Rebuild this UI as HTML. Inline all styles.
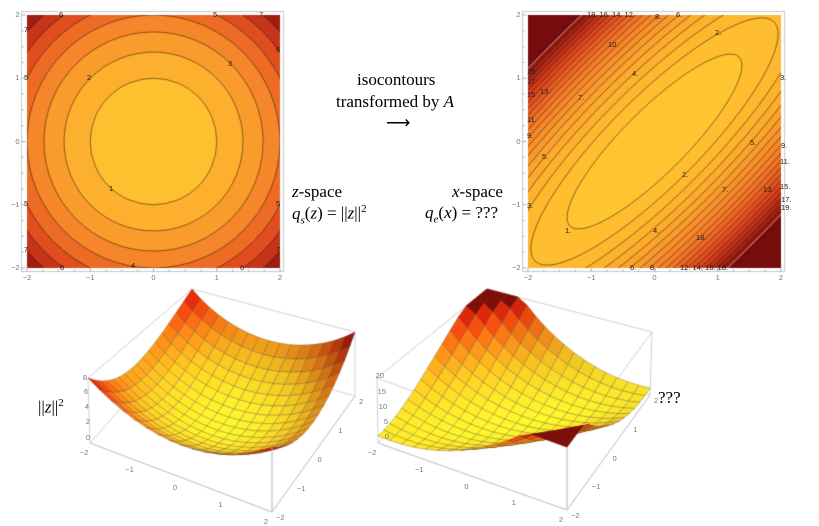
<!DOCTYPE html>
<html><head><meta charset="utf-8"><style>
body{margin:0;background:#fff;}
#w{position:relative;width:819px;height:526px;overflow:hidden;background:#fff;font-family:"Liberation Sans",sans-serif;}
canvas{position:absolute;left:0;top:0;}
.t{position:absolute;font-size:7.5px;color:#777;white-space:nowrap;line-height:1;}
.c{position:absolute;font-size:7.5px;color:#222;white-space:nowrap;line-height:1;}
.s{position:absolute;font-family:"Liberation Serif",serif;font-size:17px;color:#000;white-space:nowrap;line-height:1;}
</style></head><body><div id="w">
<canvas id="cv" width="819" height="526"></canvas>
<div class="s" style="left:357px;top:71px;">isocontours</div>
<div class="s" style="left:336px;top:93px;">transformed by <i>A</i></div>
<div class="s" style="left:386px;top:114px;">⟶</div>
<div class="s" style="left:292px;top:183px;"><i>z</i>-space</div>
<div class="s" style="left:292px;top:204px;"><i>q<sub style="font-size:11px">s</sub></i>(<i>z</i>) = ||<i>z</i>||<sup style="font-size:11px">2</sup></div>
<div class="s" style="left:452px;top:183px;"><i>x</i>-space</div>
<div class="s" style="left:425px;top:204px;"><i>q<sub style="font-size:11px">e</sub></i>(<i>x</i>) = ???</div>
<div class="s" style="left:38px;top:398px;">||<i>z</i>||<sup style="font-size:11px">2</sup></div>
<div class="s" style="left:658px;top:389px;">???</div>
<div id="lbl"></div>
</div>
<script>
const cv=document.getElementById('cv'),ctx=cv.getContext('2d');
const L=document.getElementById('lbl');
function lab(cls,x,y,t,anchor){const d=document.createElement('div');d.className=cls;d.textContent=t;d.style.top=(y-4)+'px';
 if(anchor==='r'){d.style.right=(819-x)+'px';}else if(anchor==='c'){d.style.left=(x-8)+'px';d.style.width='16px';d.style.textAlign='center';}else d.style.left=x+'px';L.appendChild(d);}
const stops=[[0,[255,200,48]],[0.25,[252,168,45]],[0.5,[243,122,40]],[0.75,[218,62,28]],[1,[138,20,15]]];
function pal(t,st){st=st||stops;t=Math.max(0,Math.min(1,t));for(let i=1;i<st.length;i++){if(t<=st[i][0]){const a=st[i-1],b=st[i];const f=(t-a[0])/(b[0]-a[0]);return a[1].map((v,k)=>v+(b[1][k]-v)*f);}}return st[st.length-1][1];}
function qe(x,y){const u=(x+y)/Math.SQRT2,v=(x-y)/Math.SQRT2;return 0.28*u*u+4*v*v;}
function qs(x,y){return x*x+y*y;}
function plot2d(x0,f,qmax){
 const y0=15,S=253,sc=S/4;
 ctx.strokeStyle='#c8c8c8';ctx.lineWidth=1;ctx.strokeRect(x0-5.5,y0-3.5,S+9,S+7);
 const im=ctx.createImageData(S,S);
 for(let j=0;j<S;j++)for(let i=0;i<S;i++){const x=-2+(i+0.5)/sc,y=2-(j+0.5)/sc;const q=f(x,y);let c;
  if(q>qmax)c=[118,12,12];else c=pal((Math.floor(q)+0.5)/qmax);
  const k=(j*S+i)*4;im.data[k]=c[0];im.data[k+1]=c[1];im.data[k+2]=c[2];im.data[k+3]=255;}
 ctx.putImageData(im,x0,y0);
 ctx.save();ctx.beginPath();ctx.rect(x0,y0,S,S);ctx.clip();
 const cx=x0+S/2,cy=y0+S/2;
 for(let k=1;k<=qmax;k++){ctx.beginPath();
  if(f===qs)ctx.arc(cx,cy,Math.sqrt(k)*sc,0,7);
  else ctx.ellipse(cx,cy,Math.sqrt(k/0.28)*sc,Math.sqrt(k/4)*sc,-Math.PI/4,0,7);
  ctx.strokeStyle=k===qmax&&f===qe?'rgba(255,255,255,0.9)':'rgba(50,25,10,0.8)';ctx.lineWidth=0.7;ctx.stroke();}
 ctx.restore();
 ctx.strokeStyle='#aaa';ctx.lineWidth=1;
 const lx=x0-5.5,by=y0+S+3.5;
 for(let v=-2;v<=2;v+=0.25){const px=x0+(v+2)*sc,py=y0+(2-v)*sc;const big=Math.abs(v-Math.round(v))<1e-6;const L2=big?4:2;
  ctx.beginPath();ctx.moveTo(px,by);ctx.lineTo(px,by-L2);ctx.moveTo(lx,py);ctx.lineTo(lx+L2,py);ctx.stroke();
  if(big){lab('t',px,by+6,v<0?'−'+(-v):''+v,'c');lab('t',lx-2,py,v<0?'−'+(-v):''+v,'r');}}
}
plot2d(27,qs,8);plot2d(528,qe,20);
[[62,15,'6'],[216,15,'5'],[262,15,'7'],[27,30,'7'],[279,50,'6'],[27,78,'5'],[90,78,'2'],[231,64,'3'],[112,189,'1'],[27,204,'5'],[279,204,'5'],[27,250,'7'],[279,250,'7'],[63,268,'6'],[134,266,'4'],[243,268,'6']].forEach(a=>lab('c',a[0]-3,a[1],a[2]));
[[587,15,'18. 16. 14. 12.'],[655,17,'8.'],[676,15,'6.'],[715,33,'2.'],[608,45,'10.'],[632,74,'4.'],[527,72,'19.'],[527,82,'17'],[540,92,'13.'],[527,95,'15'],[578,98,'7.'],[527,120,'11.'],[527,136,'9.'],[542,157,'5.'],[750,143,'5.'],[780,78,'3.'],[781,146,'9.'],[780,162,'11.'],[682,175,'2.'],[722,190,'7.'],[763,190,'13.'],[780,187,'15.'],[781,200,'17.'],[781,208,'19.'],[527,206,'3.'],[565,231,'1.'],[653,231,'4.'],[696,238,'18.'],[630,268,'6.'],[650,268,'8.'],[680,268,'12. 14. 16. 18.']].forEach(a=>lab('c',a[0],a[1],a[2]));
function lerp(a,b,t){return [a[0]+(b[0]-a[0])*t,a[1]+(b[1]-a[1])*t];}
function bil(Q,s,t){const a=lerp(Q[0],Q[1],s),b=lerp(Q[3],Q[2],s);return lerp(a,b,t);}
const st3=[[0,[255,248,45]],[0.3,[255,205,35]],[0.6,[255,130,22]],[0.85,[245,50,12]],[1,[180,22,8]]];
function plot3d(bot,top,f,zmax,clip,zl){
 function P(x,y,z){const s=(x+2)/4,t=(y+2)/4;const a=bil(bot,s,t),b=bil(top,s,t);return lerp(a,b,z/zmax);}
 ctx.strokeStyle='#c4c4c4';ctx.lineWidth=0.8;
 const edges=[];for(let i=0;i<4;i++){edges.push([bot[i],bot[(i+1)%4]],[top[i],top[(i+1)%4]],[bot[i],top[i]]);}
 edges.forEach(e=>{ctx.beginPath();ctx.moveTo(e[0][0],e[0][1]);ctx.lineTo(e[1][0],e[1][1]);ctx.stroke();});
 const N=16,cells=[];
 for(let i=0;i<N;i++)for(let j=0;j<N;j++)cells.push([i,j]);
 cells.sort((a,b)=>(a[0]-a[1])-(b[0]-b[1]));
 cells.forEach(([i,j])=>{const xs=[-2+4*i/N,-2+4*(i+1)/N],ys=[-2+4*j/N,-2+4*(j+1)/N];
  const pts=[[xs[0],ys[0]],[xs[1],ys[0]],[xs[1],ys[1]],[xs[0],ys[1]]];
  let zs=pts.map(p=>f(p[0],p[1]));const xc=(xs[0]+xs[1])/2,yc=(ys[0]+ys[1])/2;const zc=f(xc,yc);
  const clipped=clip&&zc>clip;zs=zs.map(z=>Math.min(z,clip||1e9));
  ctx.beginPath();pts.forEach((p,k)=>{const q=P(p[0],p[1],zs[k]);k?ctx.lineTo(q[0],q[1]):ctx.moveTo(q[0],q[1]);});ctx.closePath();
  const zz=Math.min(zc,clip||1e9)/zmax;
  let c=pal(zz,st3);
  let sh=1-0.3*Math.max(0,(xc+yc)/4)*zz-0.1*Math.max(0,xc/2)*zz;
  if(clipped){c=[125,15,8];sh=1;}
  const col='rgb('+c.map(v=>Math.min(255,v*sh|0)).join(',')+')';
  ctx.fillStyle=col;ctx.fill();
  if(!clipped){ctx.strokeStyle='rgba(60,40,20,0.5)';ctx.lineWidth=0.5;}else{ctx.strokeStyle=col;ctx.lineWidth=0.8;}
  ctx.stroke();
 });
 ctx.strokeStyle='#c4c4c4';ctx.lineWidth=0.8;
 [[bot[0],bot[1]],[bot[1],bot[2]],[bot[1],top[1]]].forEach(e=>{ctx.beginPath();ctx.moveTo(e[0][0],e[0][1]);ctx.lineTo(e[1][0],e[1][1]);ctx.stroke();});
 zl.forEach(a=>lab('t',a[0],a[1],a[2],'r'));
 for(let v=-2;v<=2;v++){const p=P(v,-2,0),q=P(2,v,0);const s=v<0?'−'+(-v):''+v;
  lab('t',p[0]-6,p[1]+10,s,'c');lab('t',q[0]+4,q[1]+6,s);}
}
plot3d([[90,443],[272,512],[355,396],[176,346]],[[88,378],[272,447],[355,332],[192,289]],qs,8,0,
 [[87,378,'8'],[88,392,'6'],[89,407,'4'],[90,422,'2'],[90,438,'0']]);
plot3d([[378,443],[567,510],[650,395],[470,345]],[[377,378],[567,447],[652,332],[487,289]],qe,20,20,
 [[384,376,'20'],[386,392,'15'],[387,407,'10'],[388,422,'5'],[389,437,'0']]);
</script></body></html>
